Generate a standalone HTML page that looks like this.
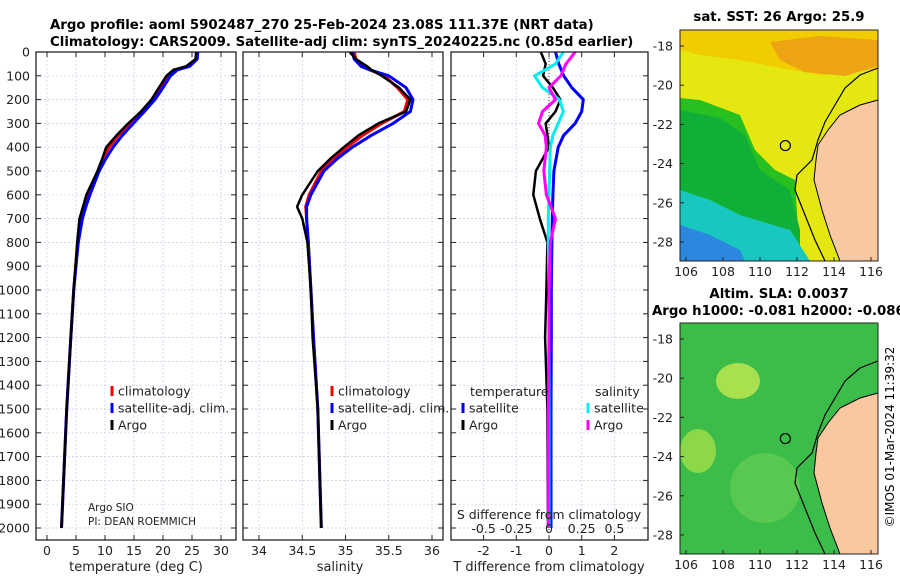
<!DOCTYPE html>
<html><head><meta charset="utf-8"><style>
body{margin:0;background:#fff;}
svg{display:block;font-family:"DejaVu Sans","Liberation Sans",sans-serif;}
</style></head><body>
<svg id="c" width="900" height="580" viewBox="0 0 900 580">
<text x="50" y="29" font-size="13.3" font-weight="bold">Argo profile: aoml 5902487_270 25-Feb-2024 23.08S 111.37E (NRT data)</text>
<text x="50" y="46" font-size="13.3" font-weight="bold">Climatology: CARS2009. Satellite-adj clim: synTS_20240225.nc (0.85d earlier)</text>
<g id="maps"></g>
<g id="plots"></g>
<text transform="translate(894,437) rotate(-90)" text-anchor="middle" font-size="12">©IMOS 01-Mar-2024 11:39:32</text>
</svg>
<script>
const depths=[0,30,60,75,100,150,200,250,300,350,400,450,500,600,650,700,800,1000,1200,1500,2000];
const tClim=[26,25.8,24.3,22,20.9,19.5,18.2,16.3,14.2,12.3,10.7,9.6,8.8,7.2,6.5,5.9,5.3,4.6,4.1,3.4,2.5];
const tSat=[26,25.9,24.6,22.5,21.3,20,18.6,16.8,14.9,13,11.4,10.1,9.0,7.4,6.7,6.1,5.4,4.6,4.1,3.4,2.5];
const tArgo=[25.7,25.6,24,21.8,20.6,19.3,18,16.2,14,12,10.2,9.5,8.7,6.8,6.2,5.6,5.2,4.6,4.1,3.4,2.5];
const sClim=[35.1,35.12,35.2,35.28,35.45,35.6,35.72,35.68,35.42,35.2,35.02,34.85,34.72,34.58,34.54,34.55,34.57,34.6,34.63,34.68,34.72];
const sSat=[35.08,35.1,35.18,35.28,35.5,35.7,35.78,35.75,35.55,35.3,35.08,34.9,34.75,34.6,34.55,34.55,34.57,34.6,34.63,34.68,34.72];
const sArgo=[35.05,35.12,35.25,35.3,35.42,35.62,35.75,35.7,35.38,35.15,34.98,34.82,34.68,34.5,34.44,34.5,34.56,34.6,34.62,34.68,34.72];
const dDepths=[0,50,100,150,200,250,300,350,400,500,600,700,800,1000,1200,1500,2000];
const dTsat=[0.2,0.3,0.45,0.7,1.05,1.0,0.8,0.45,0.28,0.15,0.12,0.1,0.09,0.07,0.07,0.06,0.06];
const dTargo=[-0.25,-0.1,-0.18,0.12,0.35,0.2,-0.1,-0.05,0,-0.4,-0.48,-0.28,-0.05,-0.08,-0.12,-0.05,-0.03];
const dSsat=[0.11,0.05,-0.11,-0.05,0.08,0.11,0.07,0.03,0.01,0.005,0,-0.005,-0.005,0,0,0,0];
const dSargo=[0.2,0.13,0.09,0,0.05,-0.05,-0.08,-0.03,-0.02,-0.04,-0.02,0.05,0.01,0,0,-0.005,-0.005];
const tTicks=[0,5,10,15,20,25,30];
const sTicks=[34,34.5,35,35.5,36];
const dTTicks=[-2,-1,0,1,2];
const dSTicks=[-0.5,-0.25,0,0.25,0.5];
const depthTicks=[0,100,200,300,400,500,600,700,800,900,1000,1100,1200,1300,1400,1500,1600,1700,1800,1900,2000];
const latTicks=[-18,-20,-22,-24,-26,-28];
const lonTicks=[106,108,110,112,114,116];

const NS="http://www.w3.org/2000/svg";
function mk(p,tag,at,txt){const e=document.createElementNS(NS,tag);for(const k in at)e.setAttribute(k,at[k]);if(txt!==undefined)e.textContent=txt;p.appendChild(e);return e;}
const TOP=52,BOT=540;
const yD=d=>TOP+d*0.238;
const plots=document.getElementById('plots');
function panel(name,x0,x1,xs,ticks,fmt,showY){
  const g=mk(plots,'g',{});
  
  
  mk(g,'rect',{x:x0,y:TOP,width:x1-x0,height:BOT-TOP,fill:'#fff'});
  depthTicks.forEach(d=>{const l=mk(g,'line',{x1:x0,x2:x1,y1:yD(d),y2:yD(d),stroke:'#c8cce8','stroke-width':0.7,'stroke-dasharray':'2,2'});
    
    mk(g,'line',{x1:x0,x2:x0+5,y1:yD(d),y2:yD(d),stroke:'#222'});mk(g,'line',{x1:x1,x2:x1-5,y1:yD(d),y2:yD(d),stroke:'#222'});
    if(showY){const t=mk(g,'text',{x:x0-6,y:yD(d)+4.5,'text-anchor':'end','font-size':12.5,fill:'#222'},d);}});
  ticks.forEach(v=>{const X=xs(v);mk(g,'line',{x1:X,x2:X,y1:TOP,y2:BOT,stroke:'#c8cce8','stroke-width':0.7,'stroke-dasharray':'2,2'});
    mk(g,'line',{x1:X,x2:X,y1:BOT,y2:BOT-5,stroke:'#222'});mk(g,'line',{x1:X,x2:X,y1:TOP,y2:TOP+5,stroke:'#222'});
    const t=mk(g,'text',{x:X,y:BOT+15,'text-anchor':'middle','font-size':12.5,fill:'#222'},fmt(v));});
  return g;
}
function line(g,name,xs,xv,dv,col,w){
  const p=mk(g,'polyline',{points:xv.map((v,i)=>xs(v).toFixed(1)+','+yD(dv[i]).toFixed(1)).join(' '),fill:'none',stroke:col,'stroke-width':w,'stroke-linejoin':'round'});
  
}
function frame(g,x0,x1){mk(g,'rect',{x:x0,y:TOP,width:x1-x0,height:BOT-TOP,fill:'none',stroke:'#222','stroke-width':1.3});}
function leg(g,x,y,col,txt,name){mk(g,'line',{x1:x,x2:x,y1:y-5,y2:y+5,stroke:col,'stroke-width':3});
  const t=mk(g,'text',{x:x+6,y:y+4.5,'font-size':12.5,fill:'#222'},txt);}

const xT=v=>47+v*5.8;
let g=panel('temperature-panel',36,236,xT,tTicks,v=>v,true);
line(g,'temperature-climatology',xT,tClim,depths,'#e00',3);
line(g,'temperature-satellite',xT,tSat,depths,'#00f',3);
line(g,'temperature-argo',xT,tArgo,depths,'#000',2.5);
leg(g,112,391,'#e00','climatology','legend-climatology');
leg(g,112,408,'#00f','satellite-adj. clim.','legend-satellite');
leg(g,112,425,'#000','Argo','legend-argo');
mk(g,'text',{x:88,y:511,'font-size':10.5,fill:'#222'},'Argo SIO');
mk(g,'text',{x:88,y:525,'font-size':10.5,fill:'#222'},'PI: DEAN ROEMMICH');
mk(g,'text',{x:136,y:571,'text-anchor':'middle','font-size':13,fill:'#222'},'temperature (deg C)');
frame(g,36,236);

const xS=v=>259+(v-34)*86.5;
g=panel('salinity-panel',243,443,xS,sTicks,v=>v,false);
line(g,'salinity-climatology',xS,sClim,depths,'#e00',3);
line(g,'salinity-satellite',xS,sSat,depths,'#00f',3);
line(g,'salinity-argo',xS,sArgo,depths,'#000',2.5);
leg(g,332,391,'#e00','climatology','legend-climatology-2');
leg(g,332,408,'#00f','satellite-adj. clim.','legend-satellite-2');
leg(g,332,425,'#000','Argo','legend-argo-2');
mk(g,'text',{x:340,y:571,'text-anchor':'middle','font-size':13,fill:'#222'},'salinity');
frame(g,243,443);

const xDT=v=>549+v*32.7, xDS=v=>549+v*130.8;
g=panel('difference-panel',451,648,xDT,dTTicks,v=>v,false);
mk(g,'line',{x1:549,x2:549,y1:TOP,y2:BOT,stroke:'#444','stroke-dasharray':'1,2'});
line(g,'tdiff-satellite',xDT,dTsat,dDepths,'#00f',3);
line(g,'tdiff-argo',xDT,dTargo,dDepths,'#000',2.5);
line(g,'sdiff-satellite',xDS,dSsat,dDepths,'#0ee',3);
line(g,'sdiff-argo',xDS,dSargo,dDepths,'#f0f',3);
mk(g,'text',{x:470,y:396,'font-size':12.5,fill:'#222'},'temperature');
mk(g,'text',{x:595,y:396,'font-size':12.5,fill:'#222'},'salinity');
leg(g,463,408,'#00f','satellite','legend-tdiff-satellite');
leg(g,463,425,'#000','Argo','legend-tdiff-argo');
leg(g,588,408,'#0ee','satellite','legend-sdiff-satellite');
leg(g,588,425,'#f0f','Argo','legend-sdiff-argo');
mk(g,'text',{x:549,y:519,'text-anchor':'middle','font-size':12.5,fill:'#222'},'S difference from climatology');
dSTicks.forEach(v=>{const t=mk(g,'text',{x:xDS(v),y:533,'text-anchor':'middle','font-size':12.5,fill:'#222'},v);});
mk(g,'text',{x:549,y:571,'text-anchor':'middle','font-size':13,fill:'#222'},'T difference from climatology');
frame(g,451,648);

const maps=document.getElementById('maps');
function P(pts,dy){return pts.map(p=>p[0]+','+(p[1]+dy)).join(' ');}
const land=[[878,100],[860,105],[840,115],[828,130],[818,145],[816,160],[814,180],[818,195],[822,210],[830,235],[840,261],[878,261]];
const contour=[[878,68],[860,75],[845,88],[835,105],[825,122],[818,140],[812,160],[797,175],[795,190],[805,215],[815,240],[825,261]];
function map(name,y0,title,sub,kind){
  const x0=680,x1=878,y1=y0+231,dy=y0-30;
  const g=mk(maps,'g',{});
  const lx=v=>686+(v-106)*18.5, ly=v=>(y0+16)+(-18-v)*19.6;
  if(kind==='sst'){
    mk(g,'rect',{x:x0,y:y0,width:198,height:231,fill:'#e4e810'});
    mk(g,'polygon',{points:P([[680,30],[878,30],[878,70],[820,75],[780,68],[740,60],[700,55],[680,50]],dy),fill:'#f0cc00'});
    mk(g,'polygon',{points:P([[770,42],[820,36],[878,40],[878,66],[845,76],[805,72],[780,60]],dy),fill:'#eca414'});
    mk(g,'polygon',{points:P([[680,98],[700,100],[740,115],[755,150],[775,170],[795,180],[800,261],[680,261]],dy),fill:'#28c020'});
    mk(g,'polygon',{points:P([[680,110],[720,118],[745,135],[760,170],[790,190],[800,230],[800,261],[680,261]],dy),fill:'#10b038'});
    mk(g,'polygon',{points:P([[680,190],[710,200],[740,215],[790,230],[810,261],[680,261]],dy),fill:'#18c8c0'});
    mk(g,'polygon',{points:P([[680,225],[710,235],[740,250],[745,261],[680,261]],dy),fill:'#2a88e0'});
  } else {
    mk(g,'rect',{x:x0,y:y0,width:198,height:231,fill:'#3cbc48'});
    mk(g,'ellipse',{cx:x0+58,cy:y0+58,rx:22,ry:18,fill:'#a8e050'});
    mk(g,'ellipse',{cx:x0+18,cy:y0+128,rx:18,ry:22,fill:'#8cd848'});
    mk(g,'ellipse',{cx:x0+85,cy:y0+165,rx:35,ry:35,fill:'#58c850'});
  }
  mk(g,'polygon',{points:P(land,dy),fill:'#f8c8a0',stroke:'#000','stroke-width':1});
  mk(g,'polyline',{points:P(contour,dy),fill:'none',stroke:'#000','stroke-width':1.2});
  mk(g,'circle',{cx:lx(111.37),cy:ly(-23.08),r:5,fill:'none',stroke:'#000','stroke-width':1.2});
  mk(g,'rect',{x:x0,y:y0,width:198,height:231,fill:'none',stroke:'#222','stroke-width':1});
  latTicks.forEach(v=>{mk(g,'line',{x1:x0,x2:x0+4,y1:ly(v),y2:ly(v),stroke:'#222'});const t=mk(g,'text',{x:x0-7,y:ly(v)+4.5,'text-anchor':'end','font-size':12.5,fill:'#222'},v);});
  lonTicks.forEach(v=>{mk(g,'line',{x1:lx(v),x2:lx(v),y1:y1,y2:y1-4,stroke:'#222'});const t=mk(g,'text',{x:lx(v),y:y1+15,'text-anchor':'middle','font-size':12.5,fill:'#222'},v);});
  const tt=mk(g,'text',{x:779,y:y0-(sub?25:9),'text-anchor':'middle','font-size':13.3,'font-weight':'bold',fill:'#000'},title);
  if(sub){const s=mk(g,'text',{x:652,y:y0-8,'font-size':13.3,'font-weight':'bold',fill:'#000'},sub);}
}
map('sst-map',30,'sat. SST: 26 Argo: 25.9',null,'sst');
map('sla-map',323,'Altim. SLA: 0.0037','Argo h1000: -0.081 h2000: -0.086','sla');
</script>
</body></html>
